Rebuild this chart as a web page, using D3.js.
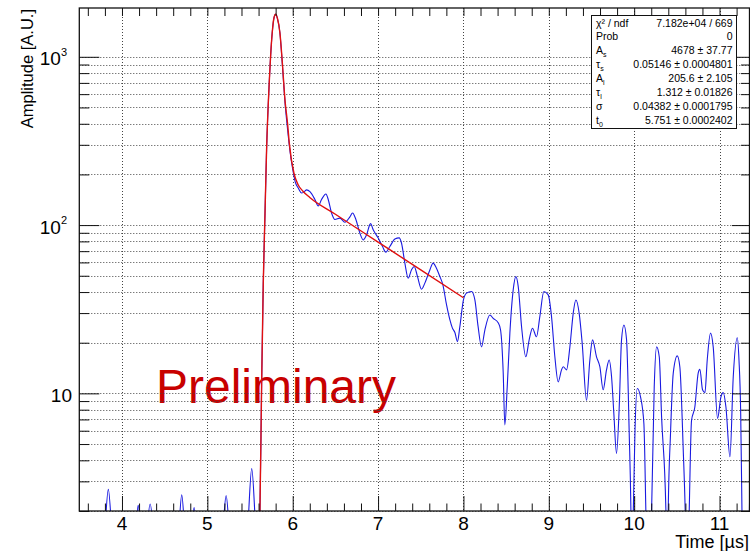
<!DOCTYPE html>
<html>
<head>
<meta charset="utf-8">
<script src="https://cdn.jsdelivr.net/npm/d3@7"></script>
<style>
  body { margin: 0; background: #fff; }
  svg { display: block; font-family: "Liberation Sans", Arial, Helvetica, sans-serif; }
  .grid line { stroke: #444; stroke-dasharray: 1,2; stroke-width: 1; }
</style>
</head>
<body>
<div id="chart"></div>
<script>
// waveform: time [us] and amplitude [A.U.]
// anything under 2 sits below the axis floor and gets clipped
var waveT = [3.50,3.78,3.80,3.84,3.88,3.90, 4.14,4.165,4.19,4.215,4.24, 4.28,4.30,4.33,4.36,4.38,
  4.64,4.665,4.70,4.735,4.76, 4.80,4.82,4.845,4.87,4.90, 5.14,5.18,5.22,5.26,5.30, 5.43,5.47,5.52,5.57,5.59,
  5.616,5.636,5.655,5.675,5.694,5.725,5.76,5.78,5.80,5.82,5.85,5.88,5.909,5.94,5.97,6.00,6.03,6.065,
  6.104,6.135,6.163,6.202,6.26,6.299,6.338,6.389,6.416,6.455,6.494,6.553,6.611,6.67,6.701,6.74,6.787,
  6.826,6.865,6.912,6.943,7.002,7.052,7.091,7.138,7.197,7.247,7.275,7.314,7.353,7.392,7.423,7.462,7.509,
  7.548,7.60,7.645,7.68,7.72,7.76,7.80,7.84,7.87,7.90,7.93,7.958,8.0,8.036,8.095,8.134,8.172,8.212,8.251,
  8.31,8.349,8.407,8.435,8.466,8.485,8.513,8.544,8.583,8.614,8.642,8.681,8.731,8.77,8.809,8.856,8.895,
  8.942,8.993,9.032,9.071,9.11,9.149,9.169,9.208,9.247,9.286,9.317,9.356,9.391,9.442,9.481,9.512,9.559,
  9.598,9.637,9.676,9.707,9.735,9.762,9.793,9.825,9.852,9.88,9.911,9.942,9.962,9.975,9.99,10.009,10.036,
  10.075,10.114,10.137,10.16,10.185,10.204,10.235,10.263,10.294,10.321,10.372,10.385,10.399,10.426,10.458,
  10.505,10.535,10.575,10.598,10.62,10.645,10.672,10.711,10.75,10.77,10.801,10.829,10.856,10.895,10.926,
  10.977,11.016,11.044,11.075,11.122,11.161,11.208,11.228,11.248,11.263,11.29,11.33,11.35,11.37];
var waveAmp = [1,1,1.5,2.69,1.5,1, 1,1.6,2.16,1.6,1, 1,1.6,2.2,1.6,1,
  1,1.5,2.5,1.5,1, 1,1.6,2.1,1.6,1, 1,1.5,2.47,1.5,1, 1,1.5,3.57,1.5,1.2,
  2.0,11.5,45,115,281,700,1390,1700,1790,1700,1390,880,540,370,270,215,180,166,
  155,158,162,158,142,130,142,153,142,118,108,110,104,112,118,108,89.6,
  81.6,87.5,102,93.8,83.7,74.6,69,74.6,82.6,84,78,59.4,48.4,54.2,56.8,49.4,41.6,
  45.2,53,59.4,56,50,44,34,27.5,24.5,23,20.3,24.9,35.9,39.4,40.3,35.9,24.9,18.9,23.8,
  29.2,27.9,26.3,23.8,13.2,6.5,10.9,22.8,41.2,49.4,43.1,24.9,16.5,20.8,24.4,21.7,28.6,
  40.3,38.5,28.6,16.5,11.7,13.8,14.4,13.8,18.9,29.9,35.9,29.9,19.9,9.1,15.8,20.8,16.5,
  14.4,10.5,13.8,15.8,12.6,7.6,4.4,8.3,20.8,25.5,20.8,5.8,2.0,0.5,2.0,5.8,10.7,
  9.5,6.6,2.0,0.5,0.5,2.0,10.9,18.9,16.5,7.3,2.0,0.5,2.0,5.8,13.2,
  16.7,14.4,4.6,2.0,0.5,2.0,6.9,8.3,13.2,13.9,10.5,10.1,15.8,22.8,18.9,
  7.1,9.5,10.1,8.3,4.2,12.6,21.4,15.8,7.6,2.0,0.5,0.5,2.0,8];

// fit curve, also
var fitT = [5.58,5.60,5.616,5.636,5.655,5.675,5.694,5.725,5.76,5.78,5.80,5.82,5.85,5.88,5.909,5.94,5.96,6.014,6.06,6.12,6.2,6.5,7.0,7.5,8.0];
var fitAmp = [0.8,1.4,2.0,11.5,45,115,281,700,1390,1700,1790,1700,1390,900,557,400,307,204,175,159,146,116,79.3,54.2,37.0];

var xMajor = [4,5,6,7,8,9,10,11];
var yMajor = [10,100,1000];
var yExp = ["","2","3"];

var statName = ["\u03c7\u00b2 / ndf","Prob","A","\u03c4","A","\u03c4","\u03c3","t"];
var statSub = ["","","s","s","l","l","","0"];
var statVal = ["7.182e+04 / 669","0","4678 \u00b1 37.77","0.05146 \u00b1 0.0004801","205.6 \u00b1 2.105",
  "1.312 \u00b1 0.01826","0.04382 \u00b1 0.0001795","5.751 \u00b1 0.0002402"];

// plot frame in pixels (don't call these top/left, window.top is taken)
var W = 750, H = 551,
    pL = 79.3, pR = 750, pT = 8, pB = 511;

var svg = d3.select("#chart").append("svg")
    .attr("width", W)
    .attr("height", H);

var x = d3.scaleLinear().domain([3.5, 11.357]).range([pL, pR]);
var y = d3.scaleLog().domain([2, 1950]).range([pB, pT]);

var yTicks = y.ticks();
var isMajor = function(v) { return yMajor.indexOf(v) >= 0; };
var yMinor = yTicks.filter(function(v) { return !isMajor(v); });
var xMinor = d3.range(18, 57).filter(function(i) { return i % 5 != 0; }).map(function(i) { return i / 5; });

// watermark goes under grid and curves
svg.append("text")
    .attr("x", 156).attr("y", 403)
    .attr("font-size", 48)
    .attr("fill", "#c80000")
    .text("Preliminary");

// dotted grid
var grid = svg.append("g").attr("class", "grid");
grid.selectAll(".gx").data(xMajor).enter().append("line")
    .attr("x1", function(d) { return Math.round(x(d)) + 0.5; })
    .attr("x2", function(d) { return Math.round(x(d)) + 0.5; })
    .attr("y1", pT).attr("y2", pB);
grid.selectAll(".gy").data(yTicks).enter().append("line")
    .attr("x1", pL).attr("x2", pR)
    .attr("y1", function(d) { return Math.round(y(d)) + 0.5; })
    .attr("y2", function(d) { return Math.round(y(d)) + 0.5; });

svg.append("clipPath").attr("id", "clip")
  .append("rect").attr("x", pL).attr("y", pT).attr("width", pR - pL).attr("height", pB - pT);

var line = d3.line()
    .x(function(d) { return x(d[0]); })
    .y(function(d) { return y(d[1]); })
    .curve(d3.curveMonotoneX);

var plot = svg.append("g").attr("clip-path", "url(#clip)");
plot.append("path")
    .datum(d3.zip(waveT, waveAmp))
    .attr("fill", "none").attr("stroke", "#1a1ae0").attr("stroke-width", 1.1)
    .attr("d", line);
plot.append("path")
    .datum(d3.zip(fitT, fitAmp))
    .attr("fill", "none").attr("stroke", "#e01010").attr("stroke-width", 1.4)
    .attr("d", line);

// ticks on all four sides, pointing inward
function ticks(gen, tx, ty, vals, size) {
  var g = svg.append("g")
      .attr("transform", "translate(" + tx + "," + ty + ")")
      .call(gen.tickValues(vals).tickSizeInner(size).tickSizeOuter(0).tickFormat(""));
  g.select(".domain").remove();
  g.selectAll("line").attr("stroke", "#111");
  return g;
}
ticks(d3.axisBottom(x), 0, pB, xMajor, -15);
ticks(d3.axisBottom(x), 0, pB, xMinor, -7.5);
ticks(d3.axisTop(x), 0, pT, xMajor.concat(xMinor), -8);
ticks(d3.axisLeft(y), pL, 0, yMajor, -20);
ticks(d3.axisLeft(y), pL, 0, yMinor, -10);
ticks(d3.axisRight(y), pR, 0, yMajor, -18);
ticks(d3.axisRight(y), pR, 0, yMinor, -9);

svg.append("rect")
    .attr("x", pL).attr("y", pT)
    .attr("width", pR - pL - 0.5).attr("height", pB - pT)
    .attr("fill", "none").attr("stroke", "#111").attr("stroke-width", 1.3);

// x labels
svg.append("g").selectAll("text").data(xMajor).enter().append("text")
    .attr("x", function(d) { return x(d); })
    .attr("y", 530)
    .attr("text-anchor", "middle")
    .attr("font-size", 19)
    .text(function(d) { return d; });

// y labels, 10 and 10^n
var yl = svg.append("g").selectAll("text").data(yMajor).enter().append("text")
    .attr("x", function(d, i) { return yExp[i] ? 67 : 72; })
    .attr("y", function(d) { return y(d) + 8.5; })
    .attr("text-anchor", "end")
    .attr("font-size", 19);
yl.append("tspan").text("10");
yl.append("tspan")
    .attr("font-size", 11)
    .attr("dy", -9.5)
    .text(function(d, i) { return yExp[i]; });

svg.append("text")
    .attr("x", 749).attr("y", 548)
    .attr("text-anchor", "end")
    .attr("font-size", 18)
    .text("Time [\u00b5s]");

svg.append("text")
    .attr("transform", "translate(33,9) rotate(-90)")
    .attr("text-anchor", "end")
    .attr("font-size", 16.5)
    .text("Amplitude [A.U.]");

// fit statistics box
var box = svg.append("g");
box.append("rect")
    .attr("x", 591.5).attr("y", 15.5).attr("width", 145).attr("height", 113)
    .attr("fill", "#fff").attr("stroke", "#111").attr("stroke-width", 1);
var rows = box.selectAll(".row").data(statVal).enter().append("g")
    .attr("transform", function(d, i) { return "translate(0," + (26.5 + i * 13.95) + ")"; });
var lab = rows.append("text")
    .attr("x", 596)
    .attr("font-size", 10.5);
lab.append("tspan").text(function(d, i) { return statName[i]; });
lab.append("tspan")
    .attr("font-size", 7)
    .attr("dy", 2.5)
    .text(function(d, i) { return statSub[i]; });
rows.append("text")
    .attr("x", 732.5)
    .attr("text-anchor", "end")
    .attr("font-size", 10.5)
    .text(function(d) { return d; });
</script>
</body>
</html>
